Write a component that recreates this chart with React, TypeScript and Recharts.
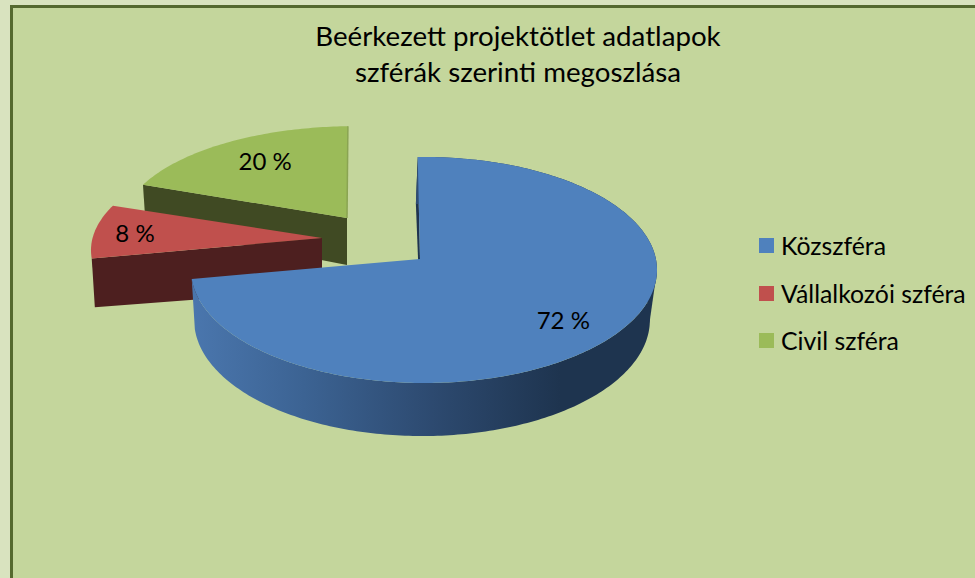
import React from "react";
import { PieChart, Pie, Legend } from "recharts";

const CATEGORIES = ["Közszféra", "Vállalkozói szféra", "Civil szféra"];
const VALUES = [72, 8, 20];
const COLORS = ["#4f81bd", "#c0504d", "#9bbb59"];
const TITLE_LINES = ["Beérkezett projektötlet adatlapok", "szférák szerinti megoszlása"];

// Painted back to front, so that the pie runs counter-clockwise from 12 o'clock.
const DRAW_ORDER = [2, 1, 0];
const data = DRAW_ORDER.map((i) => ({ name: CATEGORIES[i], value: VALUES[i], fill: COLORS[i] }));

const W = 975;
const H = 578;
const RY_RATIO = 0.485;
const BOTTOM_RX = 0.978;
const BOTTOM_RY = 1.027;

type Look = { dx: number; dy: number; ys: number; ox: number; oy: number; depth: number; wall: string; lx: number; ly: number; lt: number };
const LOOKS: Record<string, Look> = {
  "Közszféra": { dx: 0, dy: 0, ys: 1, ox: 0, oy: 0, depth: 50, wall: "#1f3450", lx: 5, ly: -7, lt: 0.78 },
  "Vállalkozói szféra": { dx: -98, dy: -21, ys: 0.93, ox: -2, oy: 2, depth: 52, wall: "#4d1f1f", lx: 2, ly: 0, lt: 0.83 },
  "Civil szféra": { dx: -73, dy: -41, ys: 0.9, ox: 3, oy: 0, depth: 47, wall: "#404a23", lx: 9, ly: 0, lt: 0.76 },
};

const rad = (d: number) => (d * Math.PI) / 180;
const warp = (a: number) => (a >= 162 ? 154.9 + (a - 162) * 1.03 : 91.5 + (a - 90) * 0.88);

function rim(cx: number, cy: number, r: number, a: number, look: Look, bottom: boolean, t = 1) {
  const w = rad(warp(a));
  const rx = r * (bottom ? BOTTOM_RX : 1);
  const ry = r * RY_RATIO * (bottom ? BOTTOM_RY : 1);
  const ex = bottom ? 2 : 4;
  const ey = bottom ? 11 + look.depth : 11;
  const x = (ex + rx * Math.cos(w)) * t + look.ox;
  const y = (ey - ry * Math.sin(w)) * look.ys * t + look.oy;
  return [cx + look.dx + x, cy + look.dy + y];
}

function arc(cx: number, cy: number, r: number, from: number, to: number, look: Look, bottom: boolean) {
  const pts: number[][] = [];
  const n = Math.max(2, Math.ceil(Math.abs(to - from)));
  for (let i = 0; i <= n; i++) pts.push(rim(cx, cy, r, from + ((to - from) * i) / n, look, bottom));
  return pts;
}

const toPath = (pts: number[][]) =>
  "M" + pts.map((p) => `${p[0].toFixed(2)},${p[1].toFixed(2)}`).join("L") + "Z";

function Sector3D(props: any) {
  const { cx, cy, outerRadius, startAngle, endAngle, fill } = props;
  const name = props.name ?? props.payload?.name;
  const look = LOOKS[name];
  const ax = cx + look.dx;
  const ay = cy + look.dy;
  const apexTop = [ax, ay];
  const apexBottom = [ax, ay + look.depth];
  const topArc = arc(cx, cy, outerRadius, startAngle, endAngle, look, false);
  const botArc = arc(cx, cy, outerRadius, startAngle, endAngle, look, true);
  const isBig = endAngle - startAngle > 180;
  const endWall = [topArc[topArc.length - 1], apexTop, apexBottom, botArc[botArc.length - 1]];
  const first = topArc[0];
  // The straight silhouette joining the top and bottom rims on the far right of the cylinder.
  const hull = [
    rim(cx, cy, outerRadius, 361, look, false),
    rim(cx, cy, outerRadius, 361, look, true),
    rim(cx, cy, outerRadius, 345, look, true),
    rim(cx, cy, outerRadius, 345, look, false),
  ];
  return (
    <g>
      <defs>
        <linearGradient id="rimBlue" gradientUnits="userSpaceOnUse" x1="194" y1="0" x2="560" y2="0">
          <stop offset="0" stopColor="#4a76ad" />
          <stop offset="0.3" stopColor="#3c6393" />
          <stop offset="0.65" stopColor="#2d4a70" />
          <stop offset="1" stopColor="#1e344f" />
        </linearGradient>
      </defs>
      <path d={toPath(endWall)} fill={look.wall} />
      {isBig && <path d={toPath(hull)} fill="url(#rimBlue)" />}
      {isBig && <path d={toPath([...topArc, ...botArc.slice().reverse()])} fill="url(#rimBlue)" />}
      <path d={toPath([apexTop, ...topArc])} fill={fill} />
      {startAngle === 90 && (
        <line x1={first[0]} y1={first[1]} x2={ax} y2={ay} stroke="#8aa452" strokeWidth={1.5} />
      )}
    </g>
  );
}

function SliceLabel(props: any) {
  const { cx, cy, outerRadius, midAngle, value } = props;
  const name = props.name ?? props.payload?.name;
  const look = LOOKS[name];
  const p = rim(cx, cy, outerRadius, midAngle, look, false, look.lt);
  return (
    <text
      x={p[0] + look.lx}
      y={p[1] + look.ly}
      textAnchor="middle"
      dominantBaseline="central"
      fontFamily="Lato, sans-serif"
      fontSize={24}
      fill="#000"
    >
      {`${value} %`}
    </text>
  );
}

function LegendBox(props: any) {
  const items = (props.payload ?? [])
    .slice()
    .sort((a: any, b: any) => CATEGORIES.indexOf(a.value) - CATEGORIES.indexOf(b.value));
  return (
    <div>
      {items.map((it: any) => (
        <div key={it.value} style={{ display: "flex", alignItems: "center", height: 47.5 }}>
          <span
            style={{
              display: "inline-block",
              width: 15,
              height: 15,
              marginRight: 7,
              background: COLORS[CATEGORIES.indexOf(it.value)],
            }}
          />
          <span style={{ fontFamily: "Lato, sans-serif", fontSize: 24.8, color: "#000", whiteSpace: "nowrap" }}>
            {it.value}
          </span>
        </div>
      ))}
    </div>
  );
}

export default function App() {
  return (
    <div style={{ position: "absolute", left: 0, top: 0, width: W, height: H, background: "#d9e3bf", overflow: "hidden" }}>
      <div
        style={{
          position: "absolute",
          left: 10,
          top: 5,
          right: 0,
          bottom: 0,
          background: "#c4d69c",
          borderLeft: "3px solid #55692f",
          borderTop: "3px solid #55692f",
        }}
      />
      <div style={{ position: "absolute", left: 0, top: 0 }}>
        <PieChart width={W} height={H} margin={{ top: 0, right: 0, bottom: 0, left: 0 }}>
          {TITLE_LINES.map((line, i) => (
            <text
              key={line}
              x={518}
              y={35 + i * 36}
              textAnchor="middle"
              dominantBaseline="central"
              fontFamily="Lato, sans-serif"
              fontSize={27.7}
              fill="#000"
            >
              {line}
            </text>
          ))}
          <Pie
            data={data}
            dataKey="value"
            nameKey="name"
            cx={420}
            cy={259}
            innerRadius={0}
            outerRadius={233}
            startAngle={90}
            endAngle={450}
            stroke="none"
            isAnimationActive={false}
            shape={Sector3D}
            label={SliceLabel}
            labelLine={false}
          />
          <Legend
            layout="vertical"
            content={LegendBox}
            wrapperStyle={{ position: "absolute", left: 759, top: 222, width: 216 }}
          />
        </PieChart>
      </div>
    </div>
  );
}
